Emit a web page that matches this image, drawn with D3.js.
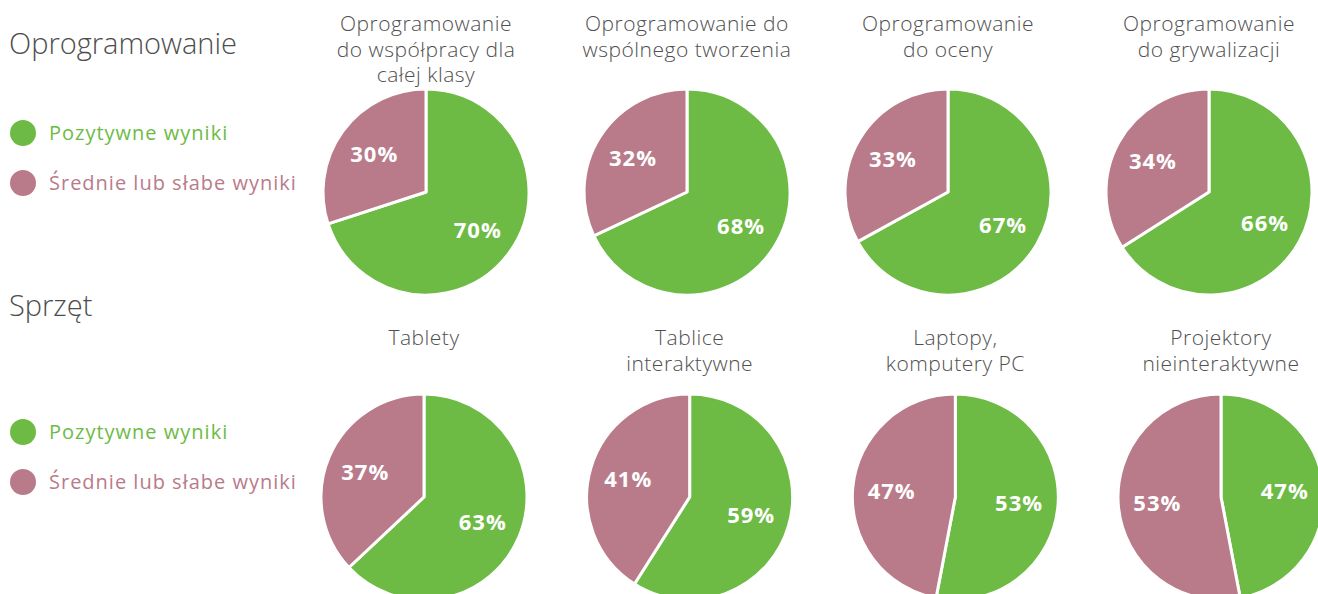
<!DOCTYPE html>
<html>
<head>
<meta charset="utf-8">
<script src="https://cdn.jsdelivr.net/npm/d3@7"></script>
<style>
	body { margin: 0; background: #fff; }
	svg { display: block; }
	text { font-family: "Open Sans", sans-serif; }
</style>
</head>
<body>
<div id="chart"></div>
<script>
const width = 1318, height = 594;

// ---- data ----
const sectionNames = ["Oprogramowanie", "Sprzęt"];
const legendLabels = ["Pozytywne wyniki", "Średnie lub słabe wyniki"];

const softwareTitles = [
	["Oprogramowanie", "do współpracy dla", "całej klasy"],
	["Oprogramowanie do", "wspólnego tworzenia"],
	["Oprogramowanie", "do oceny"],
	["Oprogramowanie", "do grywalizacji"]
];
const softwarePositive = [70, 68, 67, 66];
const softwareOther = [30, 32, 33, 34];

const hardwareTitles = [
	["Tablety"],
	["Tablice", "interaktywne"],
	["Laptopy,", "komputery PC"],
	["Projektory", "nieinteraktywne"]
];
const hardwarePositive = [63, 59, 53, 47];
const hardwareOther = [37, 41, 47, 53];

// ---- layout ----
const rows = [
	{ name: sectionNames[0], titles: softwareTitles, pos: softwarePositive, other: softwareOther,
	  headerY: 54, legendY: 133, titleY: 31, cy: 192, xRange: [426, 1209] },
	{ name: sectionNames[1], titles: hardwareTitles, pos: hardwarePositive, other: hardwareOther,
	  headerY: 316, legendY: 432, titleY: 345, cy: 497, xRange: [424, 1221] }
];

const color = d3.scaleOrdinal()
	.domain(legendLabels)
	.range(["#6dbb45", "#b97b8a"]);

const radius = 103;

const pie = d3.pie().sort(null).value((d) => d.value);
const arc = d3.arc().innerRadius(0).outerRadius(radius);
const labelArc = d3.arc().innerRadius(64).outerRadius(64);

const svg = d3.select("#chart")
	.append("svg")
	.attr("width", width)
	.attr("height", height);

rows.forEach(function(row){
	// section header
	svg.append("text")
		.attr("x", 9)
		.attr("y", row.headerY)
		.attr("font-size", 29)
		.attr("font-weight", 300)
		.attr("fill", "#4d4d4d")
		.text(row.name);

	// legend
	let legend = svg.append("g")
		.selectAll("g")
		.data(legendLabels)
		.join("g")
		.attr("transform", (d, i) => `translate(23, ${row.legendY + i * 50})`);

	legend.append("circle")
		.attr("r", 13)
		.attr("fill", (d) => color(d));

	legend.append("text")
		.attr("x", 26)
		.attr("y", 7)
		.attr("font-size", 20)
		.attr("letter-spacing", 1)
		.attr("fill", (d) => color(d))
		.text((d) => d);

	// pies
	const x = d3.scalePoint()
		.domain(d3.range(row.titles.length))
		.range(row.xRange);

	row.titles.forEach(function(title, i){
		let g = svg.append("g")
			.attr("transform", `translate(${x(i)}, ${row.cy})`);

		let slices = pie([
			{ key: legendLabels[0], value: row.pos[i] },
			{ key: legendLabels[1], value: row.other[i] }
		]);

		g.selectAll("path")
			.data(slices)
			.join("path")
			.attr("d", arc)
			.attr("fill", (d) => color(d.data.key))
			.attr("stroke", "#fff")
			.attr("stroke-width", 3)
			.attr("stroke-linejoin", "round");

		g.selectAll(".label")
			.data(slices)
			.join("text")
			.classed("label", true)
			.attr("transform", (d) => `translate(${labelArc.centroid(d)})`)
			.attr("dy", "0.36em")
			.attr("text-anchor", "middle")
			.attr("font-size", 22)
			.attr("font-weight", 700)
			.attr("letter-spacing", 1)
			.attr("fill", "#fff")
			.text((d) => d.data.value + "%");

		svg.append("text")
			.attr("text-anchor", "middle")
			.attr("font-size", 21)
			.attr("font-weight", 300)
			.attr("letter-spacing", 0.5)
			.attr("fill", "#505050")
			.selectAll("tspan")
			.data(title)
			.join("tspan")
			.attr("x", x(i))
			.attr("y", (d, k) => row.titleY + k * 25.5)
			.text((d) => d);
	});
});
</script>
</body>
</html>
